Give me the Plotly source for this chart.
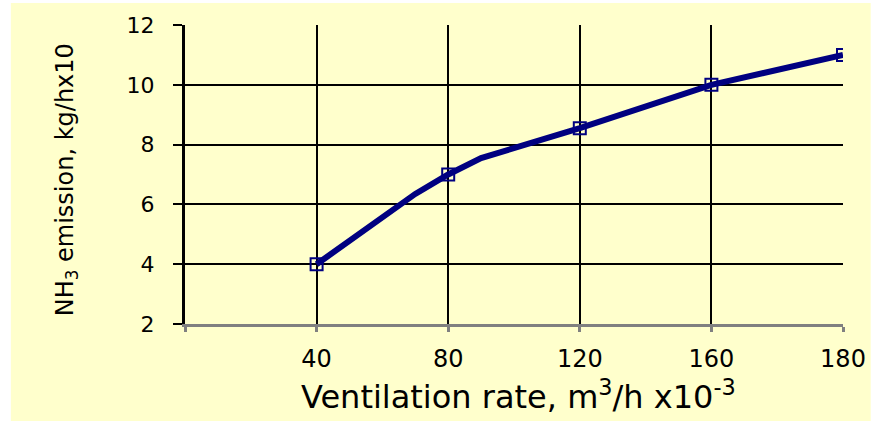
import plotly.graph_objects as go

# Data (x positions on the drawn axis scale)
line_x = [40, 70, 80, 90, 120, 160, 200]
line_y = [4.0, 6.35, 7.0, 7.55, 8.55, 10.0, 11.0]
marker_x = [40, 80, 120, 160, 200]
marker_y = [4.0, 7.0, 8.55, 10.0, 11.0]
x_tick_vals = [0, 40, 80, 120, 160, 200]
x_tick_text = ["", "40", "80", "120", "160", "180"]
y_tick_vals = [2, 4, 6, 8, 10, 12]

YELLOW = "#FFFFCC"
NAVY = "#000080"
FONT = "DejaVu Sans, Verdana, sans-serif"

fig = go.Figure()
fig.add_trace(go.Scatter(x=line_x, y=line_y, mode="lines",
                         line=dict(color=NAVY, width=6), hoverinfo="skip"))
fig.add_trace(go.Scatter(x=marker_x, y=marker_y, mode="markers",
                         marker=dict(symbol="square-open", size=12, color=NAVY,
                                     line=dict(color=NAVY, width=2))))

fig.update_layout(
    width=878, height=423,
    margin=dict(l=185, r=28, t=25, b=99),
    paper_bgcolor="white",
    plot_bgcolor=YELLOW,
    showlegend=False,
    font=dict(family=FONT, color="black"),
    xaxis=dict(range=[0, 200], tickmode="array", tickvals=x_tick_vals, ticktext=x_tick_text,
               showgrid=True, gridcolor="black", gridwidth=2, zeroline=False,
               showline=True, linecolor="#808080", linewidth=3,
               ticks="outside", ticklen=5, tickwidth=3, tickcolor="#808080",
               tickfont=dict(size=24, family=FONT, color="black"), ticklabelstandoff=6),
    yaxis=dict(range=[2, 12], tickmode="array", tickvals=y_tick_vals,
               showgrid=True, gridcolor="black", gridwidth=2, zeroline=False,
               showline=True, linecolor="black", linewidth=3,
               ticks="outside", ticklen=9, tickwidth=2, tickcolor="black",
               tickfont=dict(size=22, family=FONT, color="black"), ticklabelstandoff=14),
    shapes=[dict(type="rect", xref="paper", yref="paper", layer="below",
                 x0=(9 - 185) / 665, x1=(878 - 185) / 665,
                 y0=(324 - 421) / 299, y1=(324 - 3) / 299,
                 fillcolor=YELLOW, line=dict(width=0))],
    annotations=[
        dict(text="Ventilation rate, m<sup>3</sup>/h x10<sup>-3</sup>", xref="paper", yref="paper",
             x=(522 - 185) / 665, y=(324 - 395) / 299, showarrow=False,
             font=dict(size=32, family=FONT, color="black"), xanchor="center", yanchor="middle"),
        dict(text="NH<sub>3</sub> emission, kg/hx10", xref="paper", yref="paper",
             x=(65 - 185) / 665, y=(324 - 180) / 299, showarrow=False, textangle=-90,
             font=dict(size=24, family=FONT, color="black"), xanchor="center", yanchor="middle"),
    ],
)

fig.write_html("out.html", config={"displayModeBar": False},
               post_script="document.body.style.margin='0';")
